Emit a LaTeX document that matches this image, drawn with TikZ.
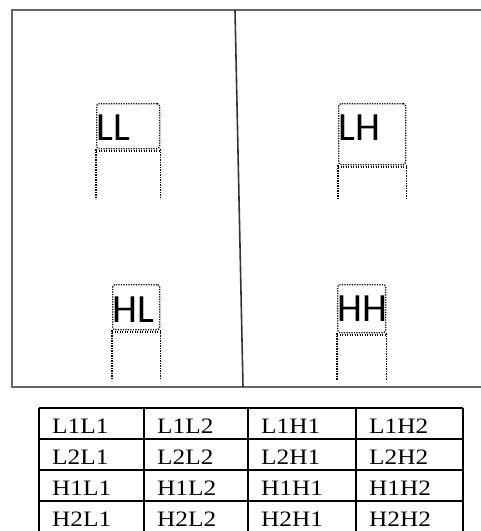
\documentclass[tikz,border=0pt]{standalone}
\usepackage{fontspec}
\setmainfont{Liberation Serif}
\newfontfamily\lblfont{Carlito}
\newfontfamily\cellfont[FakeStretch=1.15]{Liberation Serif}
\usetikzlibrary{calc}

\begin{document}
\begin{tikzpicture}[x=1pt, y=-1pt,
  frame/.style={draw=black!60, line width=2.2pt},
  split/.style={draw=black!80, line width=1.6pt},
  tbox/.style={draw=black, line width=1.3pt, dash pattern=on 1.2pt off 1.3pt,
               rounded corners=2.5pt, inner sep=0pt, anchor=north west},
  leg/.style={draw=black, line width=1.3pt, dash pattern=on 1.2pt off 1.3pt},
  lbl/.style={font=\lblfont\fontsize{40}{40}\selectfont, inner sep=0pt, anchor=base west},
  tabline/.style={draw=black, line width=1.4pt},
  cell/.style={font=\cellfont\fontsize{22}{22}\selectfont, inner sep=0pt, anchor=base west},
]
\useasboundingbox (0,0) rectangle (481,531);
\clip (0,0) rectangle (481,531);

% ---------------- outer frame and split ----------------
\draw[frame] (495,10) -- (12,10) -- (12,387) -- (495,387);
\draw[split] (235,10) -- (243,387);

% ---------------- sub-band boxes ----------------
\node[tbox, minimum width=63pt, minimum height=45pt] (LL) at (96,103) {};
\node[tbox, minimum width=67pt, minimum height=61pt] (LH) at (338,103) {};
\node[tbox, minimum width=47pt, minimum height=45pt] (HL) at (112,284) {};
\node[tbox, minimum width=48pt, minimum height=48pt] (HH) at (337,284) {};

\node[lbl] (tLL) at ([yshift=-37pt]LL.north west) {LL};
\node[lbl] (tLH) at ([yshift=-37pt]LH.north west) {LH};
\node[lbl] (tHL) at ([yshift=-38pt]HL.north west) {HL};
\node[lbl] (tHH) at ([yshift=-37pt]HH.north west) {HH};

% legs below each box
\foreach \b/\len in {LL/50,LH/33,HL/49,HH/47} {
  \draw[leg] ([yshift=-1.6pt]\b.south west) -- ([yshift=-1.6pt]\b.south east);
  \draw[leg] (\b.south west) -- ++(0,\len);
  \draw[leg] (\b.south east) -- ++(0,\len);
}

% ---------------- coefficient table ----------------
\foreach \y in {408,439,470,501,532}
  \draw[tabline] (39,\y) -- (463,\y);
\foreach \x in {39,144,248,356,463}
  \draw[tabline] (\x,408) -- (\x,540);

\foreach \r/\ra in {0/L1,1/L2,2/H1,3/H2}
  \foreach \c/\cb/\x in {0/L1/39,1/L2/144,2/H1/248,3/H2/356}
    \node[cell] (c\r\c) at (\x+13, 408+31*\r+25) {\ra\cb};

\end{tikzpicture}
\end{document}
